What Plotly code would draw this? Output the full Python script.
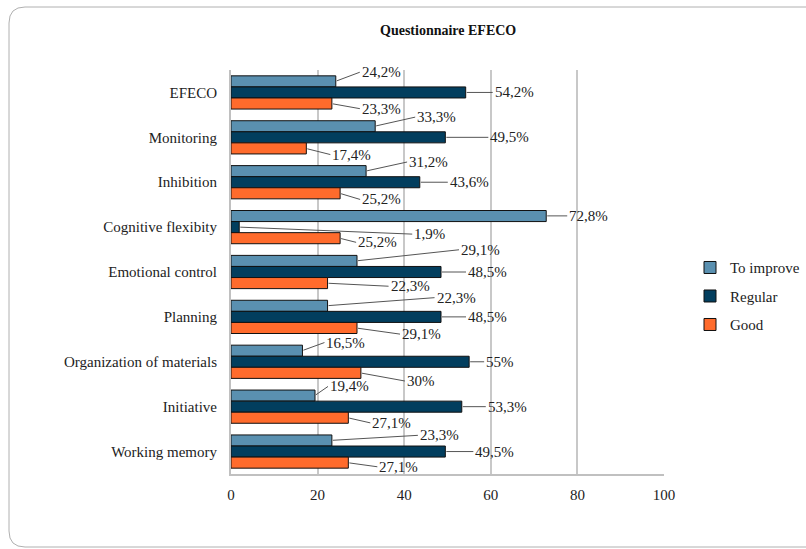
import plotly.graph_objects as go

categories = ["EFECO", "Monitoring", "Inhibition", "Cognitive flexibity", "Emotional control",
              "Planning", "Organization of materials", "Initiative", "Working memory"]
to_improve = [24.2, 33.3, 31.2, 72.8, 29.1, 22.3, 16.5, 19.4, 23.3]
regular = [54.2, 49.5, 43.6, 1.9, 48.5, 48.5, 55.0, 53.3, 49.5]
good = [23.3, 17.4, 25.2, 25.2, 22.3, 29.1, 30.0, 27.1, 27.1]
series_names = ["To improve", "Regular", "Good"]
colors = ["#5A90B0", "#023E5E", "#FF6B2C"]
tick_vals = [0, 20, 40, 60, 80, 100]

# label offsets (pixels from bar end) per series, per category, as in the reference
label_dx = [[21, 37, 38, 18, 99, 104, 19, 10, 83],
            [24, 40, 25, 170, 22, 22, 12, 21, 25],
            [25, 21, 17, 13, 58, 40, 41, 19, 26]]
label_dy = [[-9, -9, -9, 0, -11, -8, -8, -9, -5],
            [0, 0, 0, 7, 0, 0, 0, 0, 0],
            [5, 6, 6, 4, 3, 6, 8, 5, 4]]

FONT = "Liberation Serif"
series = [to_improve, regular, good]

fig = go.Figure()
for name, vals, col in zip(series_names, series, colors):
    fig.add_trace(go.Bar(
        y=categories, x=vals, name=name, orientation="h", legendgroup=name,
        marker=dict(color=col, line=dict(color="#111111", width=1)),
        hoverinfo="x+y",
    ))

def fmt(v):
    s = ("%.1f" % v).rstrip("0").rstrip(".")
    return s.replace(".", ",") + "%"

annotations = []
offsets = [-0.25, 0.0, 0.25]
for si, vals in enumerate(series):
    for ci, v in enumerate(vals):
        annotations.append(dict(
            x=v, y=ci + offsets[si], xref="x", yref="y",
            text=fmt(v), showarrow=True, arrowhead=0, arrowwidth=1,
            arrowcolor="#555555", ax=label_dx[si][ci] + 3, ay=label_dy[si][ci],
            xanchor="left", yanchor="middle",
            font=dict(family=FONT, size=15, color="#222222"),
            standoff=1,
        ))

annotations.append(dict(
    x=0.5, y=1.0, xref="paper", yref="paper", yanchor="bottom",
    text="<b>Questionnaire EFECO</b>", showarrow=False, yshift=30,
    font=dict(family=FONT, size=14, color="#111111"),
))

# rounded outer border of the chart area (paper coordinates derived from margins)
L, R, T, B = 231, 142, 70, 75
W, H = 806, 549
pw, ph = W - L - R, H - T - B
def px(xp):
    return (xp - L) / pw
def py(yp):
    return (H - B - yp) / ph
x0, x1, y0, y1, r = 9, 815, 7, 547, 16
path = (f"M {px(x0 + r)} {py(y0)} L {px(x1)} {py(y0)} L {px(x1)} {py(y1)} "
        f"L {px(x0 + r)} {py(y1)} Q {px(x0)} {py(y1)} {px(x0)} {py(y1 - r)} "
        f"L {px(x0)} {py(y0 + r)} "
        f"Q {px(x0)} {py(y0)} {px(x0 + r)} {py(y0)} Z")

fig.update_layout(
    width=W, height=H,
    margin=dict(l=L, r=R, t=T, b=B, autoexpand=False),
    barmode="group", bargap=0.26, bargroupgap=0.0,
    plot_bgcolor="white", paper_bgcolor="white",
    font=dict(family=FONT, size=15, color="#222222"),
    showlegend=True,
    legend=dict(x=px(690), y=0.44, xanchor="left", yanchor="middle",
                font=dict(family=FONT, size=15, color="#222222"),
                itemwidth=30, tracegroupgap=6, bgcolor="rgba(0,0,0,0)"),
    annotations=annotations,
    shapes=[dict(type="path", path=path, xref="paper", yref="paper",
                 line=dict(color="#B0B0B0", width=1), fillcolor="rgba(0,0,0,0)",
                 layer="below")],
    xaxis=dict(range=[0, 100], tickvals=tick_vals, showgrid=True,
               gridcolor="#C8C8C8", gridwidth=1.5, zeroline=False,
               showline=True, linecolor="#C0C0C0", linewidth=2, mirror=False,
               ticks="", ticklabelstandoff=6,
               tickfont=dict(family=FONT, size=15, color="#222222")),
    yaxis=dict(autorange="reversed", showgrid=False, zeroline=False,
               showline=True, linecolor="#C0C0C0", linewidth=2,
               ticks="", ticklabelstandoff=9,
               tickfont=dict(family=FONT, size=15, color="#222222")),
)

fig.write_html("out.html")
